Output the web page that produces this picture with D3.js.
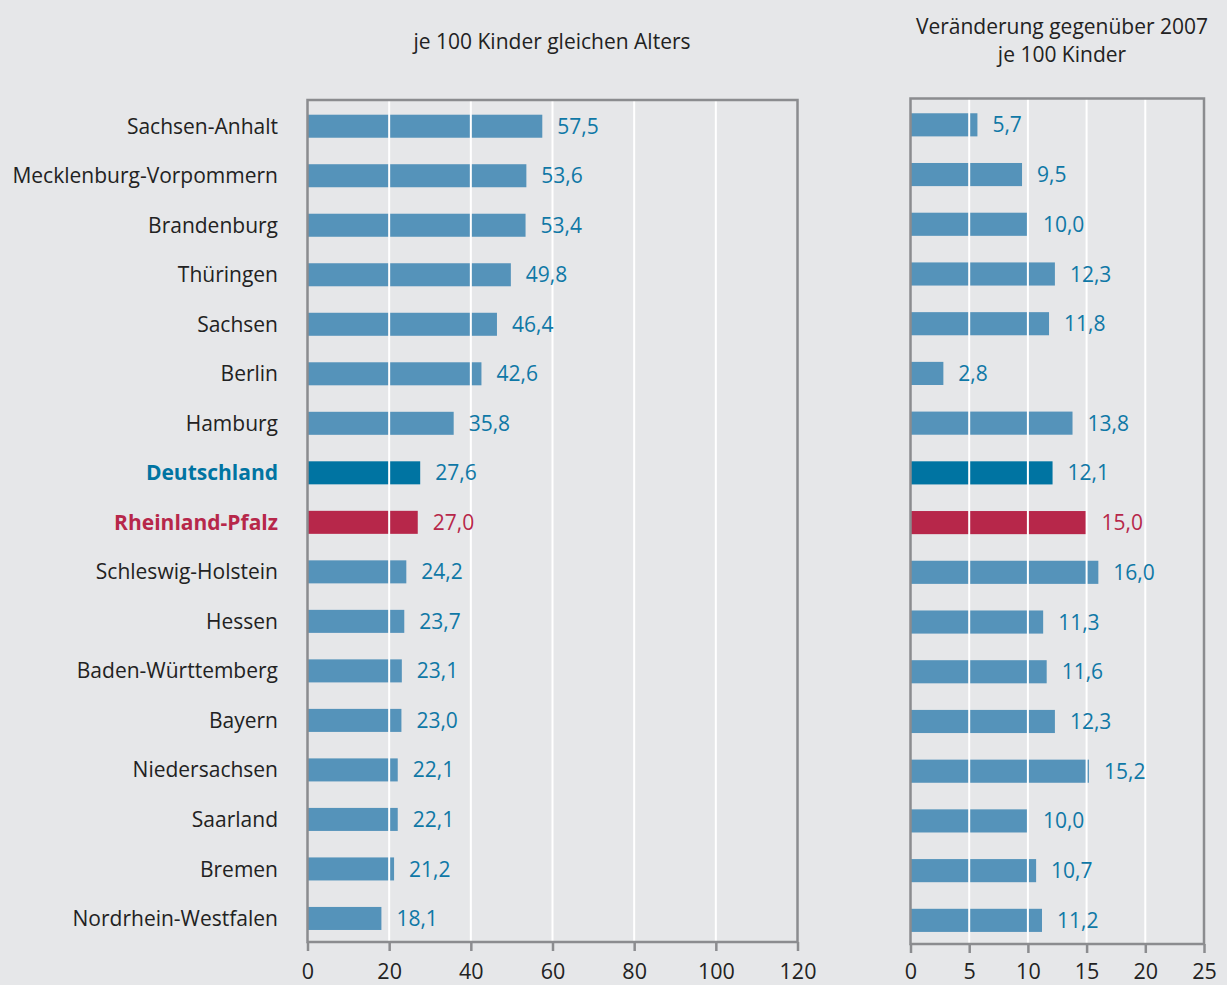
<!DOCTYPE html>
<html lang="de">
<head>
<meta charset="utf-8">
<title>Kinder je 100</title>
<script src="https://cdnjs.cloudflare.com/ajax/libs/d3/7.8.5/d3.min.js"></script>
<style>
  body { margin: 0; background: #e6e7e9; }
  svg text { font-family: "Open Sans", "Noto Sans", sans-serif; }
</style>
</head>
<body>
<div id="chart"></div>
<script>
// data
const laender = ['Sachsen-Anhalt', 'Mecklenburg-Vorpommern', 'Brandenburg', 'Thüringen', 'Sachsen',
  'Berlin', 'Hamburg', 'Deutschland', 'Rheinland-Pfalz', 'Schleswig-Holstein', 'Hessen',
  'Baden-Württemberg', 'Bayern', 'Niedersachsen', 'Saarland', 'Bremen', 'Nordrhein-Westfalen'];
const quote = [57.5, 53.6, 53.4, 49.8, 46.4, 42.6, 35.8, 27.6, 27.0, 24.2, 23.7, 23.1, 23.0, 22.1, 22.1, 21.2, 18.1];
const veraenderung = [5.7, 9.5, 10.0, 12.3, 11.8, 2.8, 13.8, 12.1, 15.0, 16.0, 11.3, 11.6, 12.3, 15.2, 10.0, 10.7, 11.2];
const ticksLeft = [0, 20, 40, 60, 80, 100, 120];
const ticksRight = [0, 5, 10, 15, 20, 25];

const W = 1227, H = 985;
const barCol = '#5593ba', deCol = '#0074a2', rpCol = '#b7274a', labelCol = '#0f78a6';
const frameCol = '#8b8c8f';

function colFor(name) {
  if (name === 'Deutschland') return deCol;
  if (name === 'Rheinland-Pfalz') return rpCol;
  return barCol;
}
function textColFor(name) {
  if (name === 'Rheinland-Pfalz') return rpCol;
  return labelCol;
}
const fmt = v => v.toFixed(1).replace('.', ',');

const svg = d3.select('#chart').append('svg')
  .attr('width', W).attr('height', H);

function panel(values, domainMax, ticks, x0, x1, yTop, yBot) {
  const x = d3.scaleLinear().domain([0, domainMax]).range([x0, x1]);
  const y = d3.scaleBand().domain(laender).range([yTop, yBot])
    .paddingInner(0.535).paddingOuter(0.27).align(0.55);
  const g = svg.append('g');

  // bars
  g.selectAll('.bar')
    .data(laender)
    .enter()
    .append('rect')
    .attr('class', 'bar')
    .attr('x', x(0))
    .attr('y', d => y(d))
    .attr('width', (d, i) => x(values[i]) - x(0))
    .attr('height', y.bandwidth())
    .attr('fill', d => colFor(d));

  // white gridlines on top of the bars
  g.selectAll('.grid')
    .data(ticks.slice(1, -1))
    .enter()
    .append('line')
    .attr('x1', d => x(d)).attr('x2', d => x(d))
    .attr('y1', yTop).attr('y2', yBot)
    .attr('stroke', '#ffffff').attr('stroke-width', 2);

  // frame
  g.append('rect')
    .attr('x', x0).attr('y', yTop)
    .attr('width', x1 - x0).attr('height', yBot - yTop)
    .attr('fill', 'none').attr('stroke', frameCol).attr('stroke-width', 2.5);

  // x axis
  const axis = d3.axisBottom(x).tickValues(ticks).tickSize(9).tickSizeOuter(0);
  const ax = g.append('g').attr('transform', 'translate(0,' + yBot + ')').call(axis);
  ax.select('.domain').remove();
  ax.selectAll('.tick line').attr('stroke', frameCol).attr('stroke-width', 2.5);
  ax.selectAll('.tick text')
    .attr('y', 978.5 - yBot).attr('dy', 0)
    .attr('fill', '#222').style('font-size', '21.5px');

  // value labels
  g.selectAll('.val')
    .data(laender)
    .enter()
    .append('text')
    .attr('x', (d, i) => x(values[i]) + 15)
    .attr('y', d => y(d) + y.bandwidth() / 2)
    .attr('dy', '0.36em')
    .attr('fill', d => textColFor(d))
    .style('font-size', '21px')
    .text((d, i) => fmt(values[i]));

  return y;
}

const yL = panel(quote, 120, ticksLeft, 307.5, 797.5, 100, 942);
panel(veraenderung, 25, ticksRight, 910.5, 1204, 98.5, 944);

// category labels
svg.selectAll('.cat')
  .data(laender)
  .enter()
  .append('text')
  .attr('x', 278)
  .attr('y', d => yL(d) + yL.bandwidth() / 2)
  .attr('dy', '0.36em')
  .attr('text-anchor', 'end')
  .attr('fill', d => d === 'Deutschland' ? deCol : d === 'Rheinland-Pfalz' ? rpCol : '#222')
  .style('font-weight', d => (d === 'Deutschland' || d === 'Rheinland-Pfalz') ? 'bold' : 'normal')
  .style('font-size', '21px')
  .text(d => d);

// titles
svg.append('text').attr('x', 552).attr('y', 49).attr('text-anchor', 'middle')
  .attr('fill', '#222').style('font-size', '21px').text('je 100 Kinder gleichen Alters');
svg.append('text').attr('x', 1062).attr('y', 34).attr('text-anchor', 'middle')
  .attr('fill', '#222').style('font-size', '21px').text('Veränderung gegenüber 2007');
svg.append('text').attr('x', 1062).attr('y', 62).attr('text-anchor', 'middle')
  .attr('fill', '#222').style('font-size', '21px').text('je 100 Kinder');
</script>
</body>
</html>
